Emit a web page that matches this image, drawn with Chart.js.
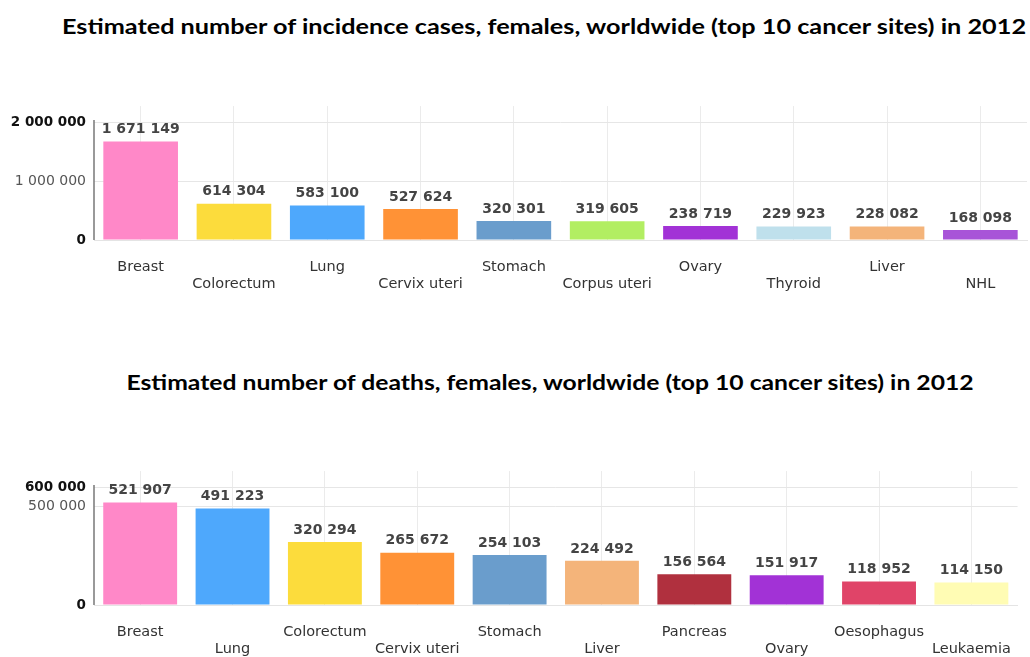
<!DOCTYPE html>
<html>
<head>
<meta charset="utf-8">
<script src="https://cdn.jsdelivr.net/npm/chart.js@4"></script>
<style>
  html, body { margin: 0; padding: 0; background: #fff; width: 1030px; height: 657px; overflow: hidden; }
  .title { position: absolute; width: 1030px; text-align: center; font-family: Lato, sans-serif; font-weight: 700; font-size: 20px; color: #000; white-space: nowrap; transform-origin: 50% 50%; }
  .box { position: absolute; left: 0; width: 1030px; height: 210px; }
</style>
</head>
<body>
<div class="title" style="top:14px; left:29px; transform: scaleX(1.262);">Estimated number of incidence cases, females, worldwide (top 10 cancer sites) in 2012</div>
<div class="box" style="top:90px;"><canvas id="incidence"></canvas></div>
<div class="title" style="top:370px; left:35px; transform: scaleX(1.235);">Estimated number of deaths, females, worldwide (top 10 cancer sites) in 2012</div>
<div class="box" style="top:455px;"><canvas id="deaths"></canvas></div>

<script>
// incidence, females, 2012
const incidenceSites = ['Breast', 'Colorectum', 'Lung', 'Cervix uteri', 'Stomach', 'Corpus uteri', 'Ovary', 'Thyroid', 'Liver', 'NHL'];
const incidenceCases = [1671149, 614304, 583100, 527624, 320301, 319605, 238719, 229923, 228082, 168098];
const incidenceColors = ['#ff88c8', '#fcdc3c', '#4ea8fc', '#ff9236', '#6a9dcc', '#b2ee62', '#a232d6', '#bfe0ec', '#f4b47a', '#a854d8'];
const incidenceTicks = [0, 1000000, 2000000];

// deaths, females, 2012
const deathSites = ['Breast', 'Lung', 'Colorectum', 'Cervix uteri', 'Stomach', 'Liver', 'Pancreas', 'Ovary', 'Oesophagus', 'Leukaemia'];
const deathCases = [521907, 491223, 320294, 265672, 254103, 224492, 156564, 151917, 118952, 114150];
const deathColors = ['#ff88c8', '#4ea8fc', '#fcdc3c', '#ff9236', '#6a9dcc', '#f4b47a', '#b0303e', '#a232d6', '#e04468', '#fffcb4'];
const deathTicks = [0, 500000, 600000];

const fmt = v => String(v).replace(/\B(?=(\d{3})+(?!\d))/g, ' ');

// staggered labels: odd categories drop to a second line
const stagger = labels => labels.map((l, i) => i % 2 ? ['', l] : [l]);

const valueLabels = {
    id: 'valueLabels',
    afterDatasetsDraw(chart) {
        const ctx = chart.ctx;
        const meta = chart.getDatasetMeta(0);
        ctx.save();
        ctx.font = 'bold 14px "DejaVu Sans"';
        ctx.fillStyle = '#444';
        ctx.textAlign = 'center';
        ctx.textBaseline = 'middle';
        meta.data.forEach((bar, i) => {
            ctx.fillText(fmt(chart.data.datasets[0].data[i]), bar.x, bar.y - 12);
        });
        ctx.restore();
    }
};

// dark axis line only up to the top tick
const axisLine = {
    id: 'axisLine',
    afterDraw(chart) {
        const y = chart.scales.y;
        const ticks = y.ticks;
        if (!ticks || !ticks.length) return;
        const top = ticks[ticks.length - 1].value;
        const ctx = chart.ctx;
        ctx.save();
        ctx.strokeStyle = '#777';
        ctx.lineWidth = 1.5;
        ctx.beginPath();
        ctx.moveTo(chart.chartArea.left, y.getPixelForValue(top) - 2);
        ctx.lineTo(chart.chartArea.left, y.getPixelForValue(0));
        ctx.stroke();
        ctx.restore();
    }
};

window.drawSiteChart = (chartid, labels, values, colors, ticks, max) => {
    var ctx = document.getElementById(chartid).getContext('2d');
    const lo = ticks[0], hi = ticks[ticks.length - 1];
    const strong = c => c.tick && (c.tick.value === lo || c.tick.value === hi);

    return new Chart(ctx, {
        type: 'bar',
        data: {
            labels: stagger(labels),
            datasets: [{
                data: values,
                backgroundColor: colors,
                borderWidth: 0,
                barPercentage: 0.8,
                categoryPercentage: 1
            }]
        },
        options: {
            animation: false,
            responsive: true,
            maintainAspectRatio: false,
            layout: { padding: { top: 10, right: 3, left: 0, bottom: 0 } },
            scales: {
                x: {
                    grid: { offset: false, color: '#ebebeb', drawTicks: false },
                    border: { color: '#e4e4e4' },
                    ticks: {
                        padding: 19,
                        maxRotation: 0,
                        autoSkip: false,
                        color: '#333',
                        font: { family: 'DejaVu Sans', size: 14.5, lineHeight: 1.15 }
                    },
                    afterFit: s => { s.height = 60; }
                },
                y: {
                    min: 0,
                    max: max,
                    afterBuildTicks: s => { s.ticks = ticks.map(v => ({ value: v })); },
                    grid: { color: '#e6e6e6', drawTicks: false },
                    border: { display: false },
                    ticks: {
                        padding: 8,
                        callback: v => fmt(v),
                        color: c => strong(c) ? '#111' : '#555',
                        font: c => strong(c)
                            ? { family: 'DejaVu Sans', size: 13.5, weight: 'bold' }
                            : { family: 'DejaVu Sans', size: 14 }
                    },
                    afterFit: s => { s.width = 94; }
                }
            },
            plugins: {
                legend: { display: false },
                tooltip: { enabled: false }
            }
        },
        plugins: [valueLabels, axisLine]
    });
};

drawSiteChart('incidence', incidenceSites, incidenceCases, incidenceColors, incidenceTicks, 2270000);
drawSiteChart('deaths', deathSites, deathCases, deathColors, deathTicks, 681000);
</script>
</body>
</html>
